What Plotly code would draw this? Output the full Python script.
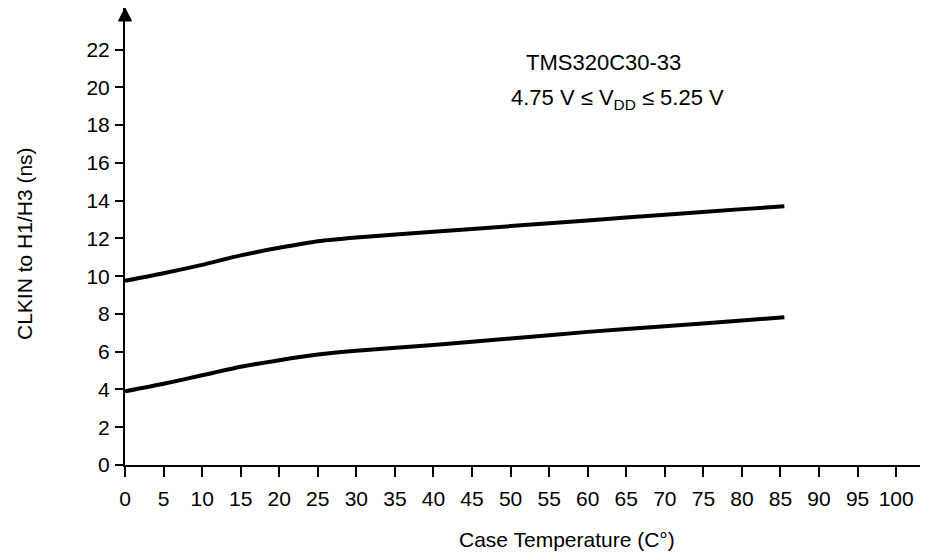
import plotly.graph_objects as go

temps = [0, 5, 10, 15, 20, 25, 30, 40, 50, 60, 70, 80, 85.5]
upper_ns = [9.75, 10.15, 10.6, 11.1, 11.5, 11.85, 12.05, 12.35, 12.65, 12.95, 13.25, 13.55, 13.7]
lower_ns = [3.9, 4.3, 4.75, 5.2, 5.55, 5.85, 6.05, 6.35, 6.7, 7.05, 7.35, 7.65, 7.83]

x_ticks = list(range(0, 101, 5))
y_ticks = list(range(0, 23, 2))

font = "Liberation Sans, Arial, sans-serif"
fsize = 21

# the page body has an 8px margin, so the figure is sized to fit the window
W, H = 920, 546
ML, MR, MT, MB = 117, 1, 0, 89
plot_w = W - ML - MR
plot_h = H - MT - MB

fig = go.Figure()

for ys in (upper_ns, lower_ns):
    fig.add_trace(go.Scatter(
        x=temps, y=ys, mode="lines",
        line=dict(color="black", width=4, shape="spline", smoothing=0.6),
        showlegend=False, hoverinfo="skip"
    ))

axis_common = dict(
    showgrid=False, zeroline=False, showline=True, linecolor="black", linewidth=2,
    ticks="outside", tickcolor="black", tickwidth=2, automargin=False,
    tickfont=dict(family=font, size=fsize, color="black"),
)

fig.update_xaxes(range=[0, 104], tickvals=x_ticks, ticklen=10, ticklabelstandoff=4, **axis_common)
fig.update_yaxes(range=[0, 24.2], tickvals=y_ticks, ticklen=8, ticklabelstandoff=1, **axis_common)

# axis end marks: arrow on top of y axis, bar at the end of x axis
ax_half = 6.5 / plot_w
ah = 13 / plot_h
fig.add_shape(type="path", xref="paper", yref="paper",
              path=f"M {-ax_half} {1 - ah} L {ax_half} {1 - ah} L 0 1 Z",
              fillcolor="black", line=dict(color="black", width=1))
fig.add_shape(type="line", xref="paper", yref="paper", x0=1, x1=1,
              y0=-4.5 / plot_h, y1=4.5 / plot_h, line=dict(color="black", width=3))

fig.add_annotation(x=62.1, y=21.3, xref="x", yref="y", showarrow=False,
                   text="TMS320C30-33", font=dict(family=font, size=22, color="black"))
fig.add_annotation(x=63.8, y=19.4, xref="x", yref="y", showarrow=False,
                   text="4.75 V ≤ V<sub>DD</sub> ≤ 5.25 V", font=dict(family=font, size=22, color="black"))

# axis titles (positions in window pixels, converted to paper fractions)
fig.add_annotation(x=(567 - 8 - ML) / plot_w, y=(465 - 539) / plot_h, xref="paper", yref="paper",
                   xanchor="center", yanchor="middle", showarrow=False,
                   text="Case Temperature (C°)", font=dict(family=font, size=fsize, color="black"))
fig.add_annotation(x=(24 - 8 - ML) / plot_w, y=(465 - 243) / plot_h, xref="paper", yref="paper",
                   xanchor="center", yanchor="middle", showarrow=False, textangle=-90,
                   text="CLKIN to H1/H3 (ns)", font=dict(family=font, size=fsize, color="black"))

fig.update_layout(
    width=W, height=H,
    margin=dict(l=ML, r=MR, t=MT, b=MB),
    plot_bgcolor="white", paper_bgcolor="white",
)

fig.write_html("out.html")
